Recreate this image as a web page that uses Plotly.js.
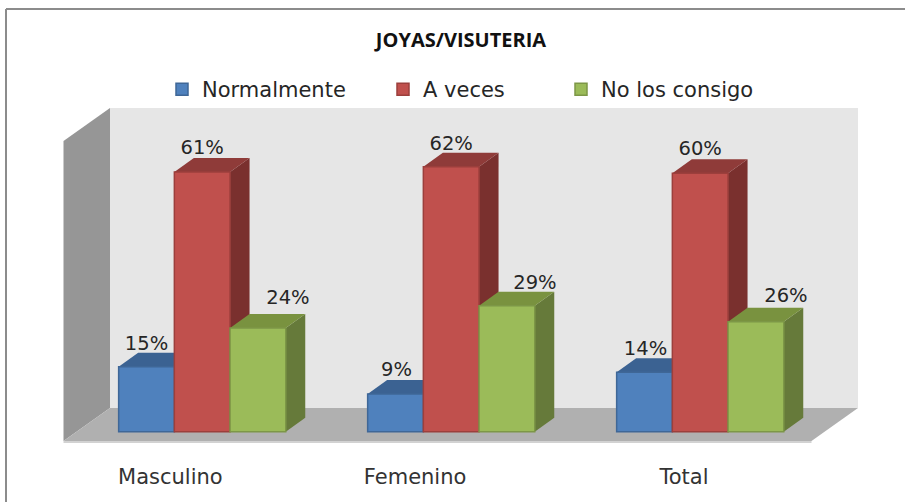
<!DOCTYPE html>
<html>
<head>
<meta charset="utf-8">
<script src="https://cdn.plot.ly/plotly-3.0.1.min.js"></script>
<style>html,body{margin:0;padding:0;background:#fff}</style>
</head>
<body>
<div id="chart" style="width:905px;height:502px"></div>
<script>
const categories = ["Masculino", "Femenino", "Total"];
const seriesNames = ["Normalmente", "A veces", "No los consigo"];
// values; the labels show them rounded to a whole percent
const normalmente = [15.2, 8.8, 13.9];
const aVeces = [60.7, 61.9, 60.4];
const noLosConsigo = [24.2, 29.4, 25.7];
const seriesValues = [normalmente, aVeces, noLosConsigo];
const labelTicks = [-0.128, 0.855, 1.935];

const faceColors = ["#4f81bd", "#c0504d", "#9bbb59"];
const edgeColors = ["#3f6797", "#9c3f3c", "#7d9747"];
const topColors = ["#3b6292", "#8f3b39", "#79923f"];
const sideColors = ["#335580", "#7a302e", "#667a3a"];

// pixel scale of the drawing: the axes are fitted so the category step and percent unit match the picture
const W = 905, H = 502, plotBottom = 455;
const stepPx = 249, pctPx = 4.28, originX = 202.2, originY = 431.7;
const px = p => p / stepPx, py = p => p / pctPx;
const xRange = [-originX / stepPx, (W - originX) / stepPx];
const yRange = [-(plotBottom - originY) / pctPx, originY / pctPx];

const barW = px(55.7);
const depthX = px(19.5), depthY = py(14);

function poly(pts, fill) {
  return {
    type: "path", xref: "x", yref: "y", layer: "below",
    path: "M" + pts.map(p => p[0] + " " + p[1]).join(" L") + " Z",
    fillcolor: fill, line: {width: 0}
  };
}

// room: back wall, left wall and floor, positioned in axis units
const L = px(-92.2), R = px(655.8), bk = py(23.7), wallTop = py(323.7);
const dxRoom = px(46.5), dyRoom = py(33);
const shapes = [
  poly([[L, bk], [R, bk], [R, wallTop], [L, wallTop]], "#e6e6e6"),
  poly([[L - dxRoom, bk - dyRoom], [L, bk], [L, wallTop], [L - dxRoom, wallTop - dyRoom]], "#969696"),
  poly([[L - dxRoom, bk - dyRoom - py(2)], [R - dxRoom, bk - dyRoom - py(2)], [R - dxRoom, bk - dyRoom], [L - dxRoom, bk - dyRoom]], "#d2d2d2"),
  poly([[L - dxRoom, bk - dyRoom], [R - dxRoom, bk - dyRoom], [R, bk], [L, bk]], "#b0b0b0")
];

// depth faces of every bar, derived from its value
seriesValues.forEach((vals, s) => {
  vals.forEach((v, c) => {
    const x0 = c + (s - 1.5) * barW, x1 = x0 + barW;
    shapes.push(poly([[x1, 0], [x1 + depthX, depthY], [x1 + depthX, v + depthY], [x1, v]], sideColors[s]));
    shapes.push(poly([[x0, v], [x1, v], [x1 + depthX, v + depthY], [x0 + depthX, v + depthY]], topColors[s]));
  });
});

// chart frame (top and left edges only reach the picture border)
shapes.push({type: "line", xref: "paper", yref: "paper", x0: 6 / W, x1: 1, y0: (plotBottom - 9) / plotBottom, y1: (plotBottom - 9) / plotBottom, line: {color: "#8c8c8c", width: 2}});
shapes.push({type: "line", xref: "paper", yref: "paper", x0: 6 / W, x1: 6 / W, y0: (plotBottom - 9) / plotBottom, y1: (plotBottom - H) / plotBottom, line: {color: "#8c8c8c", width: 2}});

const textFont = {family: "DejaVu Sans", size: 19.5, color: "#262626"};
const labelShiftX = [[0, 1, 1], [0, 0, 0], [30, 28, 30]];
const labelLift = [[22, 23, 22], [23, 22, 23], [29, 22, 25]];
const legendIds = ["legend", "legend2", "legend3"];
const legendLeft = [162, 383, 561];

const traces = seriesNames.map((name, s) => ({
  type: "bar", name, x: [0, 1, 2], y: seriesValues[s], legend: legendIds[s],
  marker: {color: faceColors[s], line: {color: edgeColors[s], width: 1.5}},
  hoverinfo: "y"
}));
seriesNames.forEach((name, s) => {
  traces.push({
    type: "scatter", mode: "text", showlegend: false, hoverinfo: "skip",
    x: [0, 1, 2].map(c => c + (s - 1) * barW + px(labelShiftX[s][c])),
    y: seriesValues[s].map((v, c) => v + py(labelLift[s][c])),
    text: seriesValues[s].map(v => Math.round(v) + "%"),
    textposition: "middle center", textfont: textFont, cliponaxis: false
  });
});

const layout = {
  width: W, height: H, autosize: false,
  margin: {l: 0, r: 0, t: 0, b: H - plotBottom, pad: 0, autoexpand: false},
  paper_bgcolor: "#ffffff", plot_bgcolor: "#ffffff",
  title: {
    text: "<b>JOYAS/VISUTERIA</b>", x: 461 / W, xanchor: "center", xref: "paper",
    y: 1 - 40 / H, yanchor: "middle", yref: "container",
    font: {family: "Open Sans", size: 20, color: "#111111"}
  },
  barmode: "group", bargap: 1 - 3 * barW, bargroupgap: 0,
  xaxis: {
    range: xRange, tickmode: "array", tickvals: labelTicks, ticktext: categories,
    showgrid: false, zeroline: false, showline: false,
    ticks: "outside", ticklen: 3, tickcolor: "rgba(0,0,0,0)",
    tickfont: {family: "DejaVu Sans", size: 21, color: "#333333"}
  },
  yaxis: {range: yRange, visible: false, showgrid: false, zeroline: false},
  showlegend: true,
  shapes
};
legendIds.forEach((id, s) => {
  layout[id] = {
    x: legendLeft[s] / W, xanchor: "left", y: (plotBottom - 69) / plotBottom, yanchor: "top",
    font: {family: "DejaVu Sans", size: 21, color: "#262626"}, bgcolor: "rgba(0,0,0,0)"
  };
});
Plotly.newPlot("chart", traces, layout, {displayModeBar: false, staticPlot: true});
</script>
</body>
</html>
